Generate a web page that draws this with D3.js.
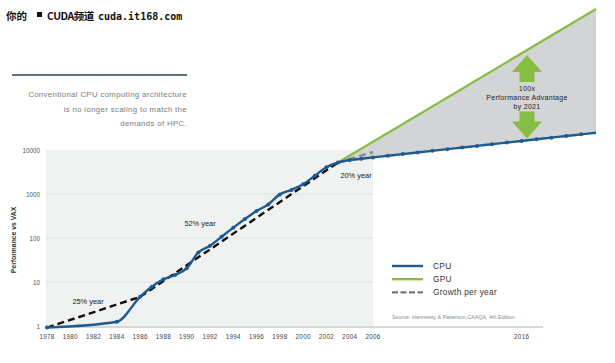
<!DOCTYPE html>
<html><head><meta charset="utf-8">
<script src="https://cdn.jsdelivr.net/npm/d3@7"></script>
<style>body{margin:0;background:#fff} svg{display:block}</style>
</head><body>
<svg id="c" width="615" height="363"></svg>
<script>
// ---------------- DATA ----------------
const cpuYears  = [1978,1984,1986,1987,1988,1989,1990,1991,1992,1993,1994,1995,1996,1997,1998,1999,2000,2001,2002,2003,2004,2005,2006,2007,2008,2009,2010,2011,2012,2013,2014,2015,2016,2017,2018,2019,2020,2021];
const cpuValues = [0.92,1.25,4.6,7.8,11.5,14.4,20.5,47,67,107,172,270,410,580,980,1240,1660,2600,4040,5200,5930,6310,6790,7400,8070,8790,9580,10440,11380,12400,13520,14730,16060,17500,19070,20790,22660,24700];
const gpuYears  = [2003, 2021];
const gpuValues = [5200, 1.6e7];
const growthLabels      = ["25% year", "52% year", "20% year"];
const growthStartYears  = [1978, 1986, 2003];
const growthEndYears    = [1986, 2003, 2006];
const growthStartValues = [0.92, 4.6, 5200];
const growthEndValues   = [4.6, 5200, 9000];
const xTickYears  = [1978,1980,1982,1984,1986,1988,1990,1992,1994,1996,1998,2000,2002,2004,2006,2016];
const yTickValues = [1,10,100,1000,10000];
const legendLabels = ["CPU","GPU","Growth per year"];
const descLines = ["Conventional CPU computing architecture","is no longer scaling to match the","demands of HPC."];
const annotLines = ["100x","Performance Advantage","by 2021"];

// ---------------- STYLE / LAYOUT ----------------
const BLUE = "#1e5b8f", GREEN = "#86bd43", FILL = "#d3d4d5", BG = "#f0f1f1";
const svg = d3.select("#c");
const x = d3.scaleLinear().domain([1978, 2006, 2021]).range([47, 373, 596]);
const y = d3.scaleLog().domain([1, 10000]).range([326, 150]);

// header watermark
const hdr = svg.append("g").attr("font-weight","bold").attr("fill","#111");
hdr.append("text").attr("x",6).attr("y",19.5).attr("font-family","'Noto Sans CJK SC'").attr("font-size",10.5).text("你的");
hdr.append("rect").attr("x",37).attr("y",12).attr("width",5).attr("height",5).attr("fill","#111");
hdr.append("text").attr("x",47).attr("y",19.5).attr("font-family","'Noto Sans CJK SC'").attr("font-size",10.5).attr("letter-spacing",-0.5).text("CUDA频道");
hdr.append("text").attr("x",98).attr("y",19.5).attr("font-family","'DejaVu Sans Mono'").attr("font-size",10).text("cuda.it168.com");

// rule + description
svg.append("line").attr("x1",12).attr("x2",187).attr("y1",75).attr("y2",75).attr("stroke","#2a4646").attr("stroke-width",1.5);
svg.append("g").selectAll("text").data(descLines).join("text")
  .attr("x",187).attr("y",(d,i)=>97+i*14.5).attr("text-anchor","end")
  .attr("font-family","'Liberation Sans', Arial, sans-serif").attr("font-size",7.8).attr("letter-spacing",0.35)
  .attr("fill","#7a7a7a").text(d=>d);

// plot background
svg.append("rect").attr("x",x(1978)-1).attr("y",y(10000)).attr("width",x(2006)-x(1978)+1).attr("height",y(1)-y(10000)).attr("fill",BG);
svg.append("g").selectAll("line").data(yTickValues.slice(1,-1)).join("line")
  .attr("x1",x(1978)-1).attr("x2",x(2006)).attr("y1",d=>y(d)).attr("y2",d=>y(d))
  .attr("stroke","#e1e3e3").attr("stroke-width",1);
svg.append("line").attr("x1",46).attr("x2",543).attr("y1",y(1)+1).attr("y2",y(1)+1).attr("stroke","#d6d7d8").attr("stroke-width",2);

// gray advantage fill between GPU and CPU
const cpu = cpuYears.map((yr,i)=>({yr, v:cpuValues[i]}));
const gpu = gpuYears.map((yr,i)=>({yr, v:gpuValues[i]}));
const cpuTail = cpu.filter(d=>d.yr>=gpuYears[0]);
const poly = gpu.concat(cpuTail.slice().reverse());
svg.append("path").datum(poly)
  .attr("d", d3.line().x(d=>x(d.yr)).y(d=>y(d.v))).attr("fill",FILL).attr("stroke","none");

// y axis labels
svg.append("g").selectAll("text").data(yTickValues).join("text")
  .attr("x",40).attr("y",d=>y(d)+2.5).attr("text-anchor","end")
  .attr("font-family","'Liberation Sans', Arial, sans-serif").attr("font-size",6.3).attr("fill","#555").text(d=>d);
svg.append("text").attr("transform","translate(16,240) rotate(-90)").attr("text-anchor","middle")
  .attr("font-family","'Liberation Sans', Arial, sans-serif").attr("font-size",6.8).attr("font-weight","bold").attr("fill","#333")
  .text("Performance vs VAX");

// x axis labels
svg.append("g").selectAll("text").data(xTickYears).join("text")
  .attr("x",d=>x(d)).attr("y",339).attr("text-anchor","middle")
  .attr("font-family","'Liberation Sans Narrow','Liberation Sans', Arial, sans-serif").attr("font-size",6.3).attr("letter-spacing",0.3).attr("fill","#444").text(d=>d);

// growth dashed lines
const growth = growthLabels.map((l,i)=>({l, x0:growthStartYears[i], x1:growthEndYears[i], v0:growthStartValues[i], v1:growthEndValues[i]}));
svg.append("g").selectAll("line").data(growth).join("line")
  .attr("x1",d=>x(d.x0)).attr("x2",d=>x(d.x1)).attr("y1",d=>y(d.v0)).attr("y2",d=>y(d.v1))
  .attr("stroke",(d,i)=>i<2?"#111":"#8a8a8a").attr("stroke-width",2.4).attr("stroke-dasharray","7,4");

// GPU line
svg.append("path").datum(gpu).attr("d", d3.line().x(d=>x(d.yr)).y(d=>y(d.v)))
  .attr("fill","none").attr("stroke",GREEN).attr("stroke-width",2.2);

// CPU line
svg.append("path").datum(cpu).attr("d", d3.line().curve(d3.curveMonotoneX).x(d=>x(d.yr)).y(d=>y(d.v)))
  .attr("fill","none").attr("stroke",BLUE).attr("stroke-width",2.4);
svg.append("g").selectAll("circle").data(cpu.slice(0,-1)).join("circle")
  .attr("cx",d=>x(d.yr)).attr("cy",d=>y(d.v)).attr("r",2).attr("fill",BLUE);

// growth labels
const labelPos = [[88,304],[200,226],[356,178]];
svg.append("g").selectAll("text").data(growthLabels).join("text")
  .attr("x",(d,i)=>labelPos[i][0]).attr("y",(d,i)=>labelPos[i][1]).attr("text-anchor","middle")
  .attr("font-family","'Liberation Sans', Arial, sans-serif").attr("font-size",7.4).attr("fill","#222").text(d=>d);

// annotation arrows
const ax = 527;
svg.append("path").attr("fill",GREEN)
  .attr("d",`M${ax},55 L${ax+15},72 L${ax+7.5},72 L${ax+7.5},82 L${ax-7.5},82 L${ax-7.5},72 L${ax-15},72 Z`);
svg.append("path").attr("fill",GREEN)
  .attr("d",`M${ax},138.5 L${ax+15},121.5 L${ax+7.5},121.5 L${ax+7.5},111.5 L${ax-7.5},111.5 L${ax-7.5},121.5 L${ax-15},121.5 Z`);
svg.append("g").selectAll("text").data(annotLines).join("text")
  .attr("x",ax).attr("y",(d,i)=>91+i*8.8).attr("text-anchor","middle")
  .attr("font-family","'Liberation Sans', Arial, sans-serif").attr("font-size",7).attr("letter-spacing",0.3).attr("fill","#222").text(d=>d);

// legend
const lg = svg.append("g");
lg.selectAll("line").data(legendLabels).join("line")
  .attr("x1",392).attr("x2",423).attr("y1",(d,i)=>266+i*13.2).attr("y2",(d,i)=>266+i*13.2)
  .attr("stroke",(d,i)=>[BLUE,GREEN,"#777"][i]).attr("stroke-width",2.4)
  .attr("stroke-dasharray",(d,i)=>i===2?"6,2.5":null);
lg.selectAll("text").data(legendLabels).join("text")
  .attr("x",433).attr("y",(d,i)=>269+i*13.2)
  .attr("font-family","'Liberation Sans', Arial, sans-serif").attr("font-size",8.3).attr("letter-spacing",0.3).attr("fill","#333").text(d=>d);
svg.append("text").attr("x",392).attr("y",318.5)
  .attr("font-family","'Liberation Sans', Arial, sans-serif").attr("font-size",5.4).attr("fill","#8a8a8a")
  .text("Source: Hennessy & Patterson,CAAQA, 4th Edition.");
</script>
</body></html>
